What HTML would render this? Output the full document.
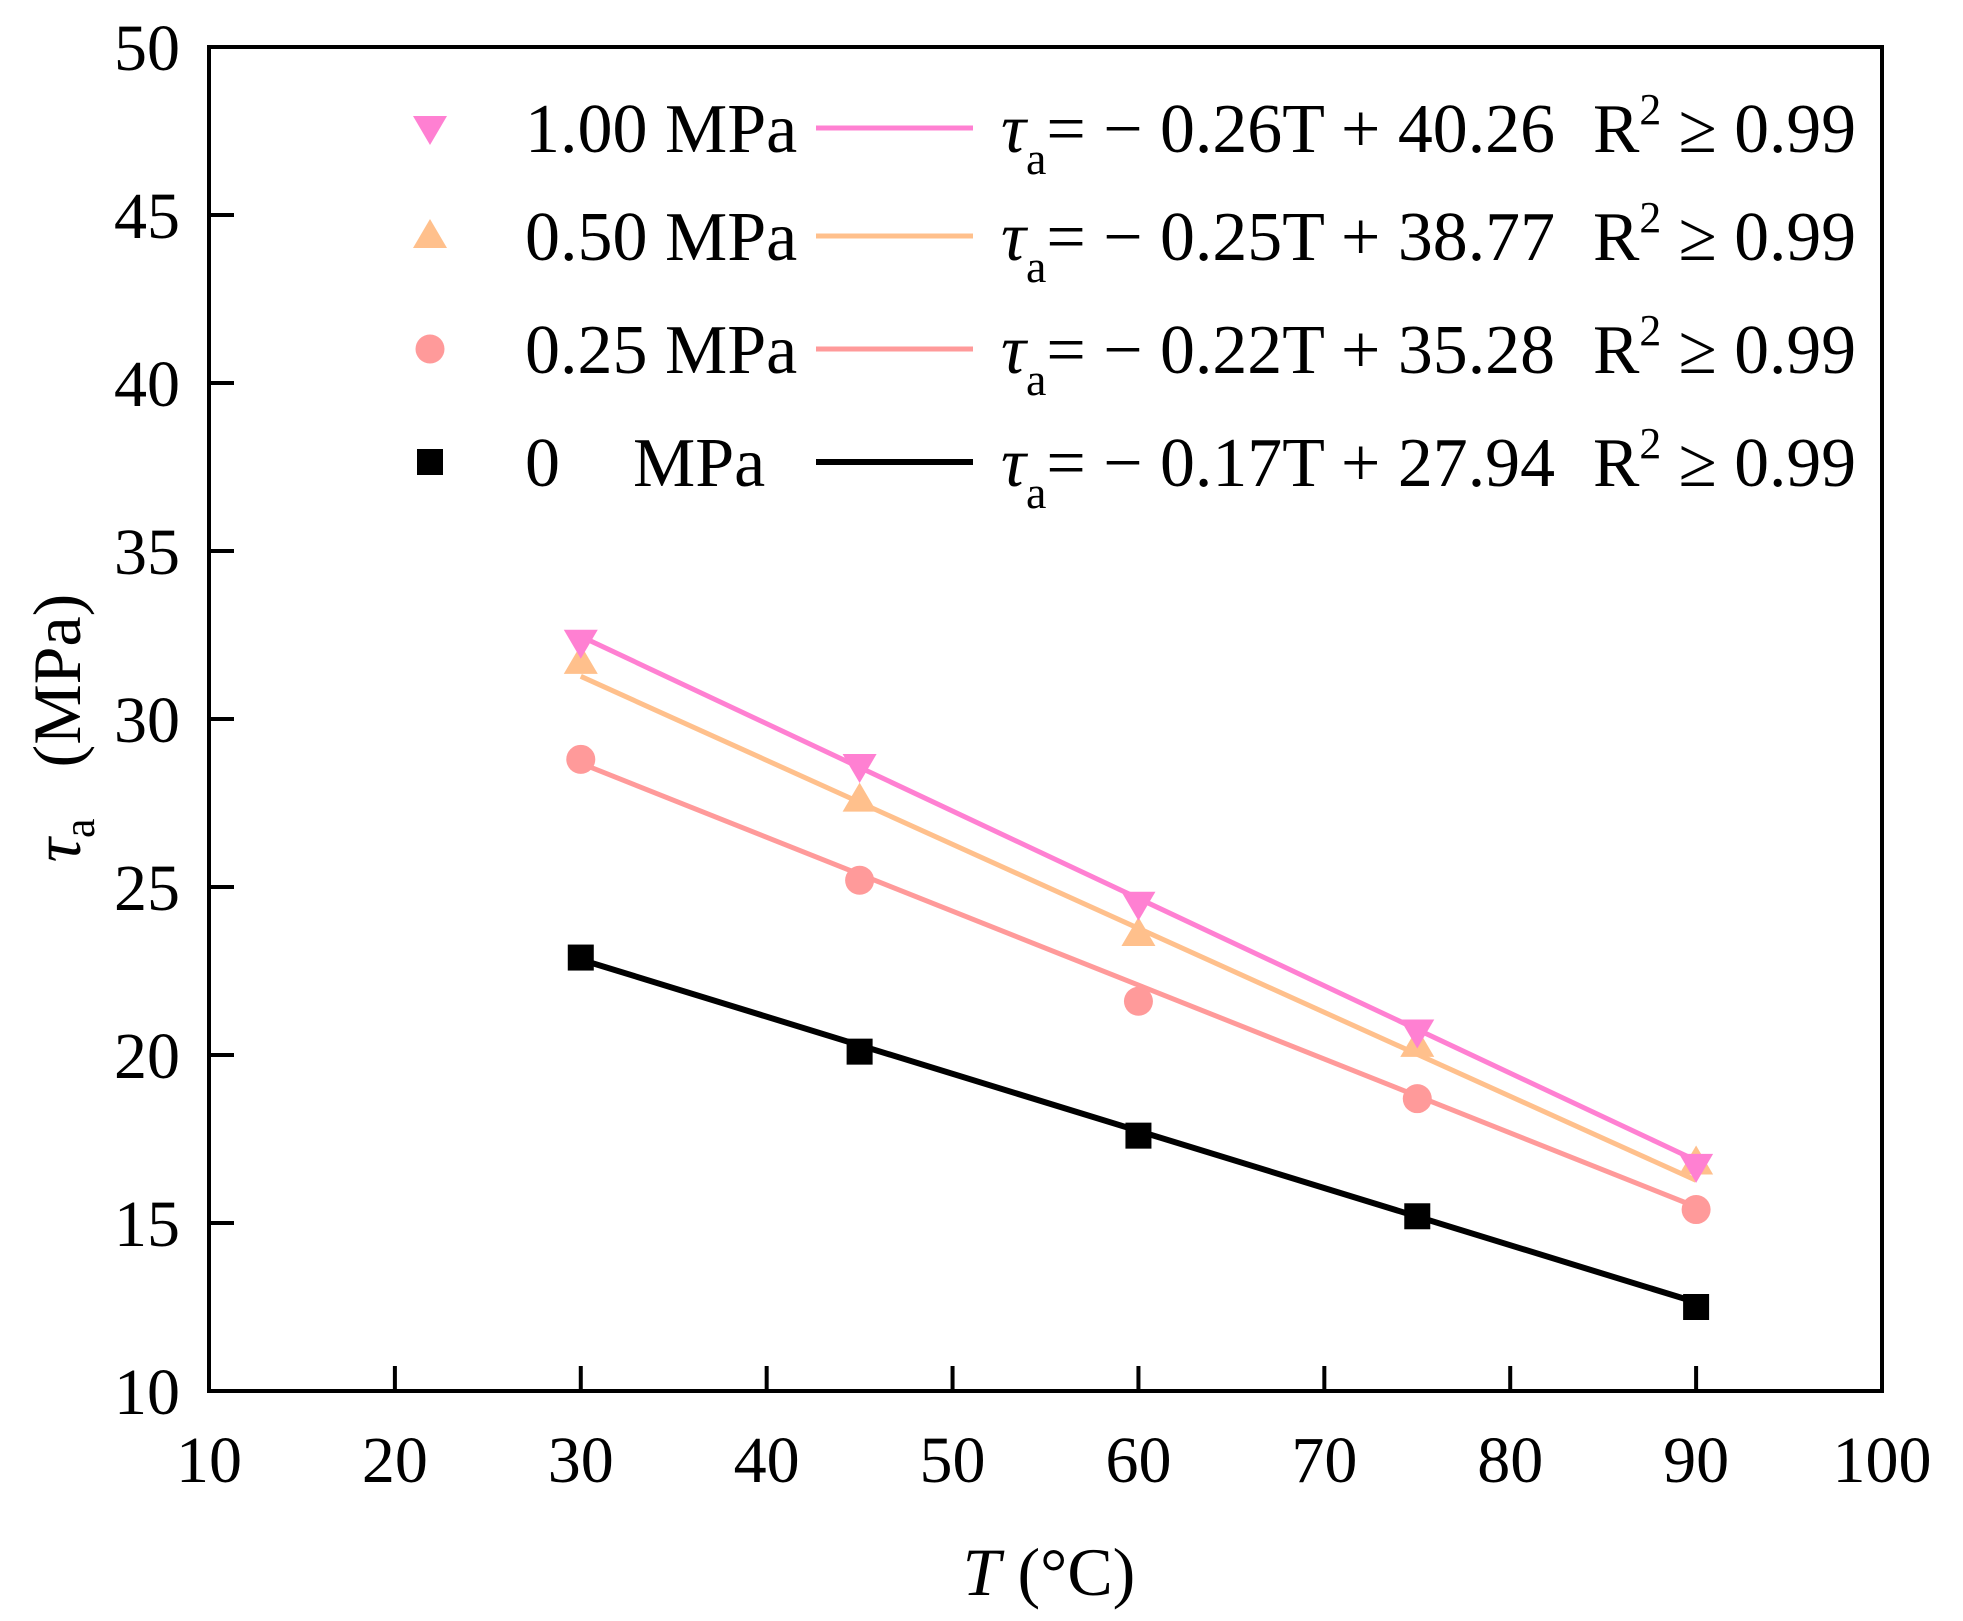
<!DOCTYPE html>
<html><head><meta charset="utf-8"><style>
html,body{margin:0;padding:0;background:#fff;}
svg{display:block;font-family:"Liberation Serif",serif;}
</style></head><body>
<svg id="chart" width="1963" height="1621" viewBox="0 0 1963 1621" xmlns="http://www.w3.org/2000/svg"></svg>
<script>
const xTicks = [10,20,30,40,50,60,70,80,90,100];
const yTicks = [10,15,20,25,30,35,40,45,50];
const temps = [30,45,60,75,90];
const s100 = [32.3,28.6,24.5,20.7,16.7];
const s050 = [31.7,27.6,23.6,20.3,16.8];
const s025 = [28.8,25.2,21.6,18.7,15.4];
const s000 = [22.9,20.1,17.6,15.2,12.5];
const slopes = [-0.26,-0.25,-0.22,-0.17];
const intercepts = [40.26,38.77,35.28,27.94];
const seriesLabels = ["1.00 MPa","0.50 MPa","0.25 MPa","0     MPa"];
const eqLabels = ["0.26T + 40.26","0.25T + 38.77","0.22T + 35.28","0.17T + 27.94"];

const NS="http://www.w3.org/2000/svg";
const svg=document.getElementById('chart');
const L=209,R=1882,T=47,B=1391;
const xs=v=>L+(v-10)/90*(R-L);
const ys=v=>B-(v-10)/40*(B-T);
function mk(tag,at,parent){const e=document.createElementNS(NS,tag);for(const k in at)e.setAttribute(k,at[k]);(parent||svg).appendChild(e);return e;}

const colors=["#ff80d2","#ffc08c","#ff9a9a","#000000"];
const widths=[5,5,5,6];
const shapes=["down","up","circle","square"];
const data=[s100,s050,s025,s000];

function marker(shape,cx,cy,color,g){
  let e;
  if(shape==="down"){e=mk('polygon',{points:`${cx-17},${cy-12} ${cx+17},${cy-12} ${cx},${cy+17}`,fill:color},g);}
  else if(shape==="up"){e=mk('polygon',{points:`${cx-17},${cy+12} ${cx+17},${cy+12} ${cx},${cy-17}`,fill:color},g);}
  else if(shape==="circle"){e=mk('circle',{cx:cx,cy:cy,r:14.5,fill:color},g);}
  else {e=mk('rect',{x:cx-13,y:cy-13,width:26,height:26,fill:color},g);}
  return e;
}

for(let i=3;i>=0;i--){
  const g=mk('g',{});
  
  
  const x0=temps[0],x1=temps[temps.length-1];
  const ln=mk('line',{x1:xs(x0),y1:ys(slopes[i]*x0+intercepts[i]),x2:xs(x1),y2:ys(slopes[i]*x1+intercepts[i]),stroke:colors[i],'stroke-width':widths[i]},g);
  
  
  data[i].forEach((v,j)=>{
    const m=marker(shapes[i],xs(temps[j]),ys(v),colors[i],g);
    
    
  });
}

const fr=mk('rect',{x:L,y:T,width:R-L,height:B-T,fill:'none',stroke:'#000','stroke-width':4});



xTicks.forEach(v=>{
  if(v>10&&v<100){const t=mk('line',{x1:xs(v),y1:B,x2:xs(v),y2:B-25,stroke:'#000','stroke-width':4});
  
  }
  const tx=mk('text',{x:xs(v),y:1482,'font-size':66,'text-anchor':'middle'});
  tx.textContent=v;
  
  
});
yTicks.forEach(v=>{
  if(v>10&&v<50){const t=mk('line',{x1:L,y1:ys(v),x2:L+25,y2:ys(v),stroke:'#000','stroke-width':4});
  
  }
  const tx=mk('text',{x:180,y:ys(v)+23,'font-size':66,'text-anchor':'end'});
  tx.textContent=v;
  
  
});

const xt=mk('text',{x:1049,y:1595,'font-size':68,'text-anchor':'middle'});
xt.innerHTML='<tspan font-style="italic">T</tspan> (°C)';


const yt=mk('text',{x:0,y:0,'font-size':68,'text-anchor':'middle',style:'white-space:pre',transform:'translate(80,728) rotate(-90)'});
yt.innerHTML='<tspan font-style="italic">τ</tspan><tspan font-size="44" dy="14">a</tspan><tspan dy="-14">   (MPa)</tspan>';



const rows=[128,236,349,462];
for(let i=0;i<4;i++){
  const g=mk('g',{});
  
  
  const cy=rows[i];
  marker(shapes[i],430,cy,colors[i],g);
  const lt=mk('text',{x:525,y:cy+24,'font-size':70},g);
  lt.textContent=seriesLabels[i];
  if(i===3){lt.textContent='0';const m=mk('text',{x:633,y:cy+24,'font-size':70},g);m.textContent='MPa';}
  mk('line',{x1:816,y1:cy,x2:973,y2:cy,stroke:colors[i],'stroke-width':widths[i]},g);
  const eq=mk('text',{x:1001,y:cy+24,'font-size':70},g);
  eq.innerHTML='<tspan font-style="italic">τ</tspan><tspan font-size="46" dy="22">a</tspan><tspan dy="-22">= − '+eqLabels[i]+'</tspan>';
  eq.setAttribute('textLength',554);
  eq.setAttribute('lengthAdjust','spacingAndGlyphs');
  const r2=mk('text',{x:1593,y:cy+24,'font-size':70},g);
  r2.innerHTML='R<tspan font-size="44" dy="-28">2</tspan><tspan dy="28"> ≥ 0.99</tspan>';
  r2.setAttribute('textLength',263);
  r2.setAttribute('lengthAdjust','spacingAndGlyphs');
}
</script>
</body></html>
